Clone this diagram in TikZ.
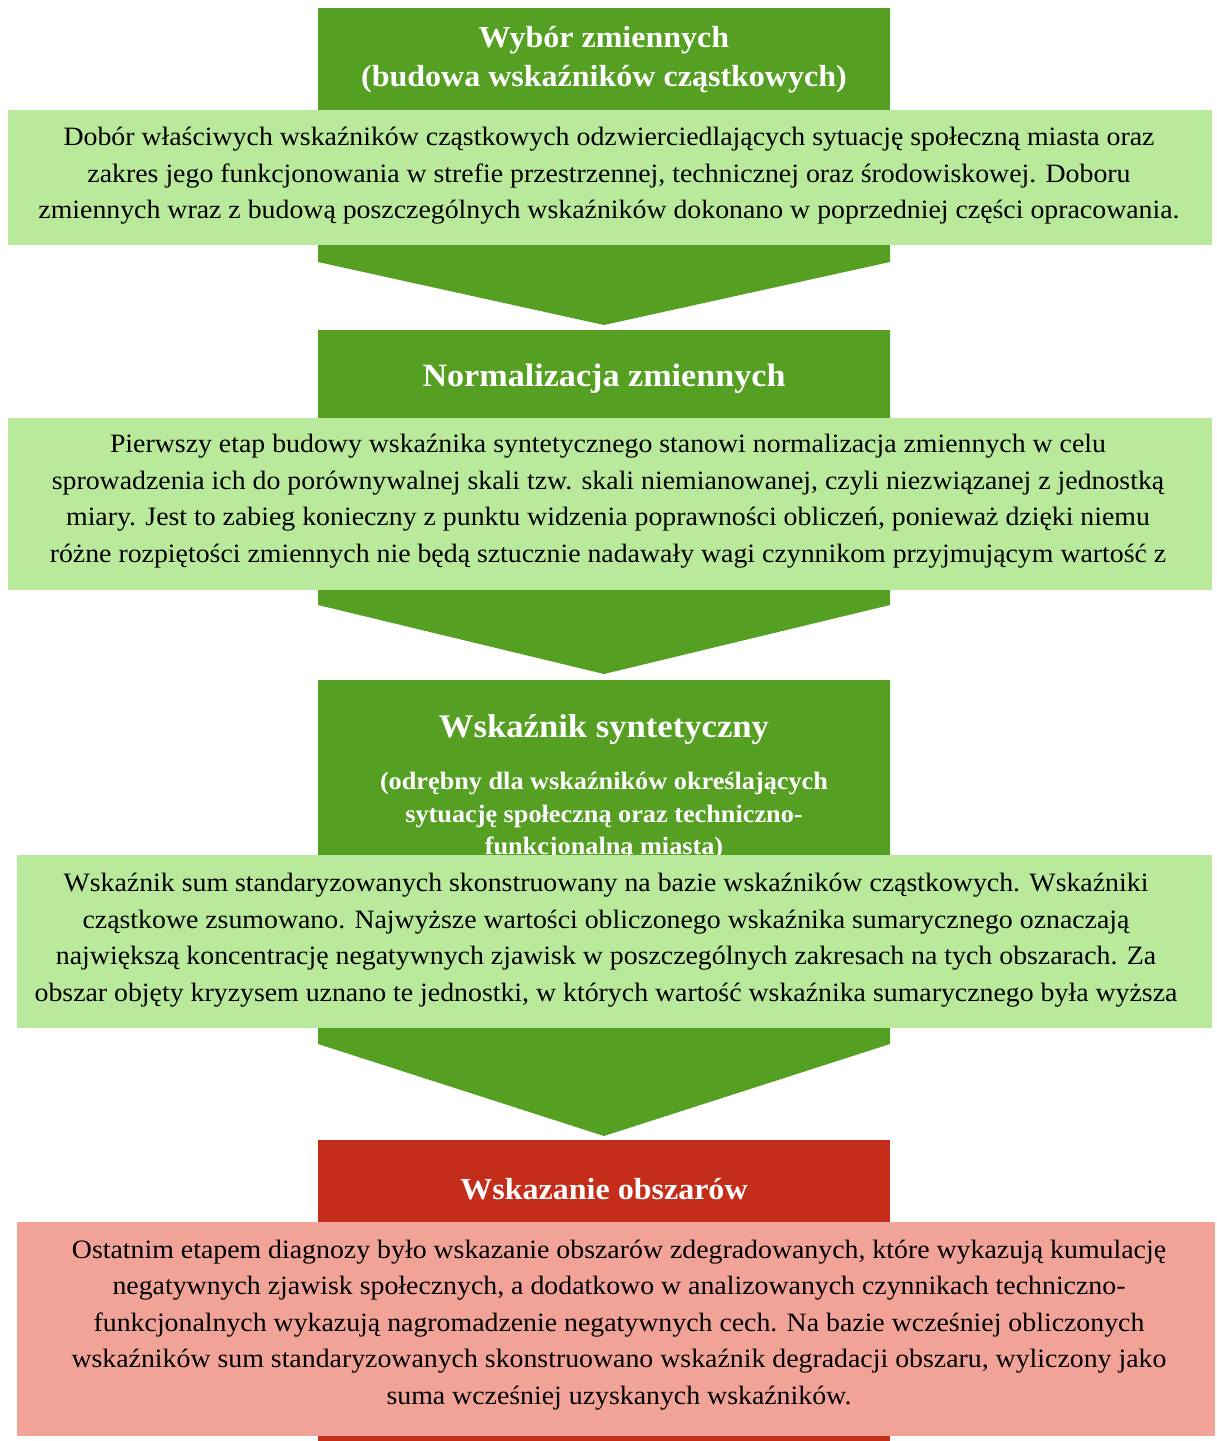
\documentclass[tikz,border=0pt]{standalone}
\usepackage{fontspec}
\setmainfont[FakeStretch=1.05]{Liberation Serif}
\definecolor{ciemnazielen}{HTML}{55A023}
\definecolor{jasnazielen}{HTML}{B9E99A}
\definecolor{czerwien}{HTML}{C32D19}
\definecolor{roz}{HTML}{F1A398}
\tikzset{
  tytul/.style={text=white, font=\bfseries\fontsize{30.5}{39}\selectfont, align=center, inner sep=0pt},
  podtytul/.style={text=white, font=\bfseries\fontsize{25}{32.5}\selectfont, align=center, inner sep=0pt},
  opis/.style={text=black, font=\fontsize{26.5}{36.5}\selectfont, align=center, inner sep=0pt}
}
\begin{document}
\begin{tikzpicture}[x=1pt,y=-1pt]
    \useasboundingbox (0,0) rectangle (1217,1441);

    % Krok 1: wybor zmiennych
    \fill[ciemnazielen] (318,8) -- (890,8) -- (890,262) -- (604,325) -- (318,262) -- cycle;
    \node[tytul] (tytul1) at (604,60) {Wybór zmiennych\\(budowa wskaźników cząstkowych)};
    \fill[jasnazielen] (8,110) rectangle (1212,245);
    \node[opis] (opis1) at (609,176) {Dobór właściwych wskaźników cząstkowych odzwierciedlających sytuację społeczną miasta oraz\\
      zakres jego funkcjonowania w strefie przestrzennej, technicznej oraz środowiskowej. Doboru\\
      zmiennych wraz z budową poszczególnych wskaźników dokonano w poprzedniej części opracowania.};

    % Krok 2: normalizacja
    \fill[ciemnazielen] (318,330) -- (890,330) -- (890,605) -- (604,674) -- (318,605) -- cycle;
    \node[tytul, font=\bfseries\fontsize{32.5}{39}\selectfont] (tytul2) at (604,379) {Normalizacja zmiennych};
    \fill[jasnazielen] (8,418) rectangle (1212,590);
    \node[opis] (opis2) at (608,501) {Pierwszy etap budowy wskaźnika syntetycznego stanowi normalizacja zmiennych w celu\\
      sprowadzenia ich do porównywalnej skali tzw. skali niemianowanej, czyli niezwiązanej z jednostką\\
      miary. Jest to zabieg konieczny z punktu widzenia poprawności obliczeń, ponieważ dzięki niemu\\
      różne rozpiętości zmiennych nie będą sztucznie nadawały wagi czynnikom przyjmującym wartość z};

    % Krok 3: wskaznik syntetyczny
    \fill[ciemnazielen] (318,680) -- (890,680) -- (890,1044) -- (604,1136) -- (318,1044) -- cycle;
    \node[tytul, font=\bfseries\fontsize{33}{39}\selectfont] (tytul3) at (604,730) {Wskaźnik syntetyczny};
    \node[podtytul] (podtytul3) at (604,816) {(odrębny dla wskaźników określających\\
      sytuację społeczną oraz techniczno-\\funkcjonalną miasta)};
    \fill[jasnazielen] (17,855) rectangle (1212,1028);
    \node[opis] (opis3) at (606,940) {Wskaźnik sum standaryzowanych skonstruowany na bazie wskaźników cząstkowych. Wskaźniki\\
      cząstkowe zsumowano. Najwyższe wartości obliczonego wskaźnika sumarycznego oznaczają\\
      największą koncentrację negatywnych zjawisk w poszczególnych zakresach na tych obszarach. Za\\
      obszar objęty kryzysem uznano te jednostki, w których wartość wskaźnika sumarycznego była wyższa};

    % Krok 4: obszary zdegradowane
    \fill[czerwien] (318,1140) rectangle (890,1441);
    \node[tytul] (tytul4) at (604,1189) {Wskazanie obszarów};
    \fill[roz] (17,1222) rectangle (1215,1436);
    \node[opis] (opis4) at (619,1325) {Ostatnim etapem diagnozy było wskazanie obszarów zdegradowanych, które wykazują kumulację\\
      negatywnych zjawisk społecznych, a dodatkowo w analizowanych czynnikach techniczno-\\
      funkcjonalnych wykazują nagromadzenie negatywnych cech. Na bazie wcześniej obliczonych\\
      wskaźników sum standaryzowanych skonstruowano wskaźnik degradacji obszaru, wyliczony jako\\
      suma wcześniej uzyskanych wskaźników.};
  \end{tikzpicture}
\end{document}
